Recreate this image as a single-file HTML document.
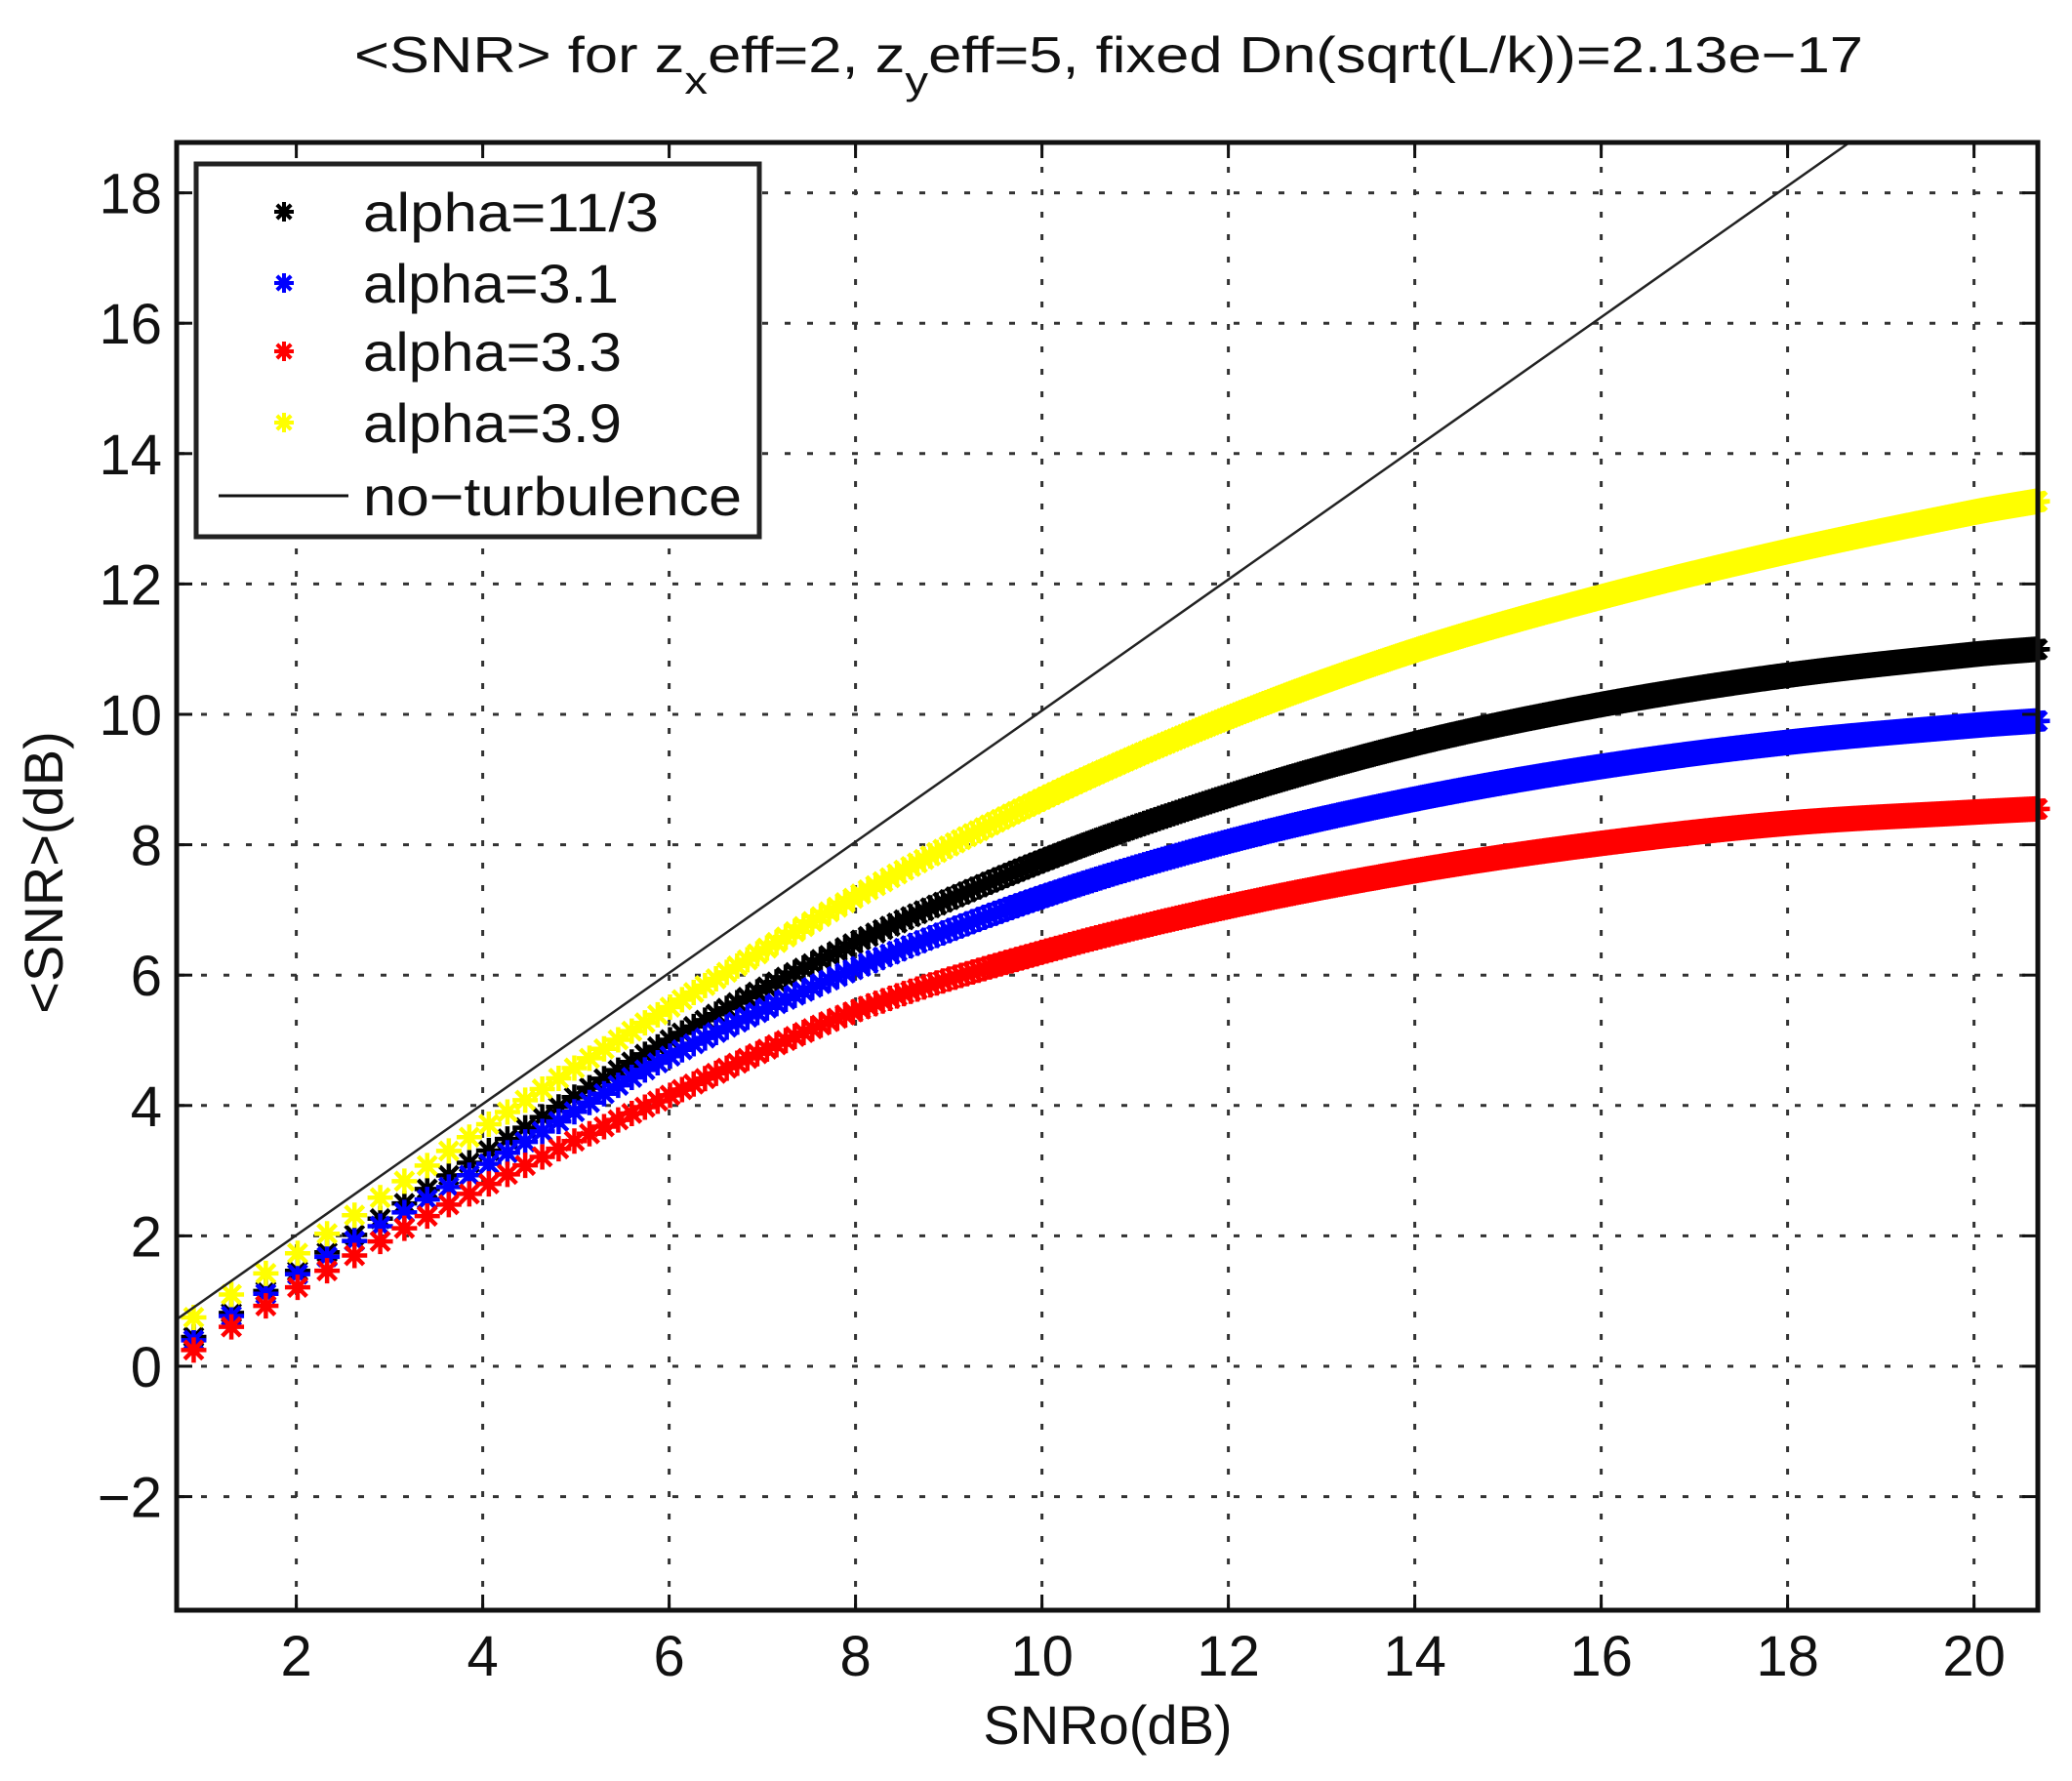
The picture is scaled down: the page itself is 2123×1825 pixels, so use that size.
<!DOCTYPE html>
<html><head><meta charset="utf-8"><style>
html,body{margin:0;padding:0;background:#fff;}
svg{display:block;}
text{font-family:"Liberation Sans",Arial,sans-serif;fill:#111;}
</style></head><body>
<svg id="s" width="2123" height="1825" viewBox="0 0 2123 1825" xmlns="http://www.w3.org/2000/svg">
<rect width="2123" height="1825" fill="#fff"/>
<g id="grid" stroke="#333" stroke-width="3" stroke-dasharray="6 17" fill="none"></g>
<g id="series"></g>
<line x1="181" y1="1352" x2="1895" y2="146" stroke="#222" stroke-width="2.5"/>
<g id="ticks" stroke="#111" stroke-width="3"></g>
<rect x="181" y="146" width="1907" height="1504" fill="none" stroke="#111" stroke-width="5"/>
<g id="labels" font-size="58"></g>
<rect x="201" y="168" width="577" height="382" fill="#fff" stroke="#222" stroke-width="5"/>
<g id="leg"></g>
<text x="372" y="237" font-size="56" textLength="303" lengthAdjust="spacingAndGlyphs">alpha=11/3</text>
<text x="372" y="310" font-size="56" textLength="262" lengthAdjust="spacingAndGlyphs">alpha=3.1</text>
<text x="372" y="380" font-size="56" textLength="265" lengthAdjust="spacingAndGlyphs">alpha=3.3</text>
<text x="372" y="453" font-size="56" textLength="265" lengthAdjust="spacingAndGlyphs">alpha=3.9</text>
<line x1="224" y1="508" x2="357" y2="508" stroke="#111" stroke-width="3"/>
<text x="372" y="528" font-size="56" textLength="388" lengthAdjust="spacingAndGlyphs">no−turbulence</text>
<text x="363" y="74" font-size="52" textLength="1546" lengthAdjust="spacingAndGlyphs">&lt;SNR&gt; for z<tspan dy="22" font-size="40">x</tspan><tspan dy="-22">eff=2, z</tspan><tspan dy="22" font-size="40">y</tspan><tspan dy="-22">eff=5, fixed Dn(sqrt(L/k))=2.13e−17</tspan></text>
<text x="1135" y="1787" font-size="56" text-anchor="middle">SNRo(dB)</text>
<text transform="translate(64,894) rotate(-90)" font-size="56" text-anchor="middle">&lt;SNR&gt;(dB)</text>
</svg>
<script>
var NS="http://www.w3.org/2000/svg";
function X(v){return 112.6+95.5*v;}
function Y(v){return 1400-66.8*v;}
function el(p,t,a,txt){var e=document.createElementNS(NS,t);for(var k in a)e.setAttribute(k,a[k]);if(txt!==undefined)e.textContent=txt;document.getElementById(p).appendChild(e);return e;}
for(var v=2;v<=20;v+=2){var x=X(v);
 el("grid","line",{x1:x,y1:148,x2:x,y2:1648});
 el("ticks","line",{x1:x,y1:1650,x2:x,y2:1634});el("ticks","line",{x1:x,y1:146,x2:x,y2:162});
 el("labels","text",{x:x,y:1717,"text-anchor":"middle"},String(v));}
for(var v=-2;v<=18;v+=2){var y=Y(v);
 el("grid","line",{x1:183,y1:y,x2:2086,y2:y});
 el("ticks","line",{x1:181,y1:y,x2:197,y2:y});el("ticks","line",{x1:2088,y1:y,x2:2072,y2:y});
 el("labels","text",{x:166,y:y+21,"text-anchor":"end"},(v<0?"−":"")+Math.abs(v));}
var xs=[0.9,2,4,6,8,10,12,14,16,18,20,20.68];
var S=[
 ["#000",[0.45,1.45,3.25,5.0,6.5,7.75,8.75,9.55,10.15,10.6,10.92,11.0]],
 ["#0000ff",[0.4,1.4,3.05,4.75,6.1,7.2,8.05,8.7,9.2,9.57,9.83,9.9]],
 ["#ff0000",[0.25,1.2,2.75,4.15,5.45,6.35,7.05,7.6,8.02,8.33,8.5,8.55]],
 ["#ffff00",[0.75,1.72,3.65,5.5,7.2,8.7,9.95,10.98,11.8,12.5,13.1,13.27]]];
function interp(ys,x){
 var i=0;while(i<xs.length-2&&x>xs[i+1])i++;
 var x0=xs[i],x1=xs[i+1],t=(x-x0)/(x1-x0),h=x1-x0;
 function slope(k){
  if(k==0)return (ys[1]-ys[0])/(xs[1]-xs[0]);
  if(k==xs.length-1)return (ys[k]-ys[k-1])/(xs[k]-xs[k-1]);
  return (ys[k+1]-ys[k-1])/(xs[k+1]-xs[k-1]);}
 var m1=slope(i)*h,m2=slope(i+1)*h,p1=ys[i],p2=ys[i+1];
 var t2=t*t,t3=t2*t;
 return (2*t3-3*t2+1)*p1+(t3-2*t2+t)*m1+(-2*t3+3*t2)*p2+(t3-t2)*m2;}
function star(x,y,r){var d=r*0.72;
 return "M"+(x-r)+" "+y+"h"+(2*r)+"M"+x+" "+(y-r)+"v"+(2*r)+"M"+(x-d)+" "+(y-d)+"l"+(2*d)+" "+(2*d)+"M"+(x-d)+" "+(y+d)+"l"+(2*d)+" "+(-2*d);}
S.forEach(function(s){
 var d="";
 for(var L=1.23;L<=117.5;L+=0.12){var xv=10*Math.log10(L);if(xv>20.68)break;
  d+=star(X(xv),Y(interp(s[1],xv)),13);}
 el("series","path",{d:d,stroke:s[0],"stroke-width":4.5,fill:"none"});
});
var ly=[217,290,360,433];
S.forEach(function(s,i){el("leg","path",{d:star(291,ly[i],10),stroke:s[0],"stroke-width":4,fill:"none"});});
</script>
</body></html>
